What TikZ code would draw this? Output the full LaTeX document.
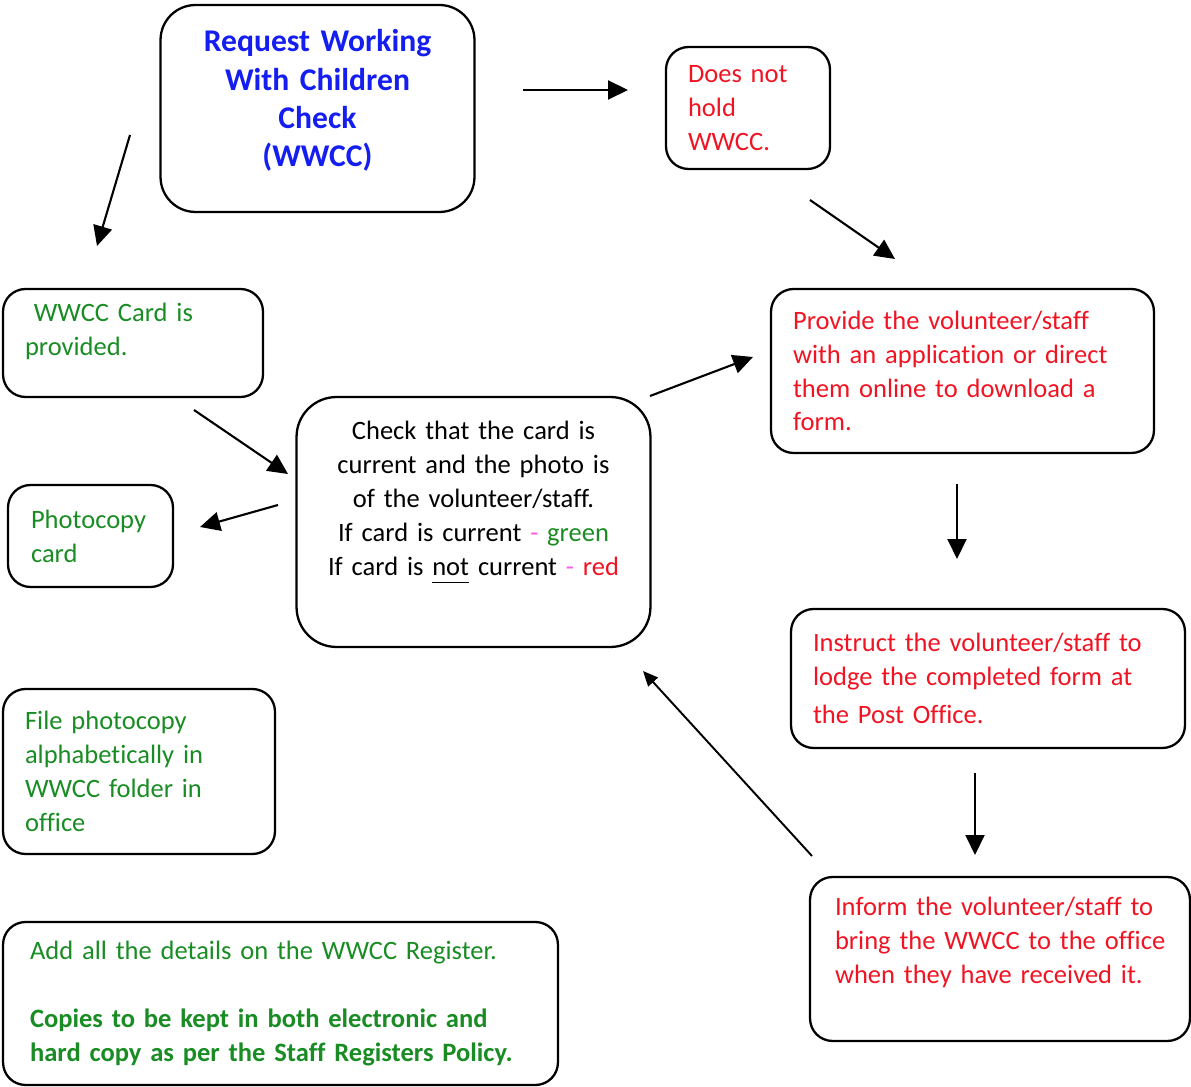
\documentclass[tikz,border=0pt]{standalone}
\usepackage{fontspec}
\setmainfont{Carlito}[Ligatures=NoCommon]
\usepackage{xcolor}
\usetikzlibrary{arrows.meta}

\definecolor{wgreen}{RGB}{25,140,35}
\definecolor{wred}{RGB}{240,20,35}
\definecolor{wblue}{RGB}{20,30,240}
\definecolor{wpink}{RGB}{250,90,230}

\newcommand{\lowul}[1]{\underline{#1\vphantom{gp}}}

\tikzset{
  box/.style={draw, rounded corners=0.45cm, line width=1.3pt, inner xsep=0.44cm, inner ysep=0pt,
    align=left, font=\fontsize{15.1}{19.3}\selectfont,
    execute at begin node={\hyphenpenalty=10000\exhyphenpenalty=10000}},
  flow/.style={line width=1.2pt, -{Triangle[length=0.4cm,width=0.38cm]}},
  thinflow/.style={line width=1.1pt, -{Triangle[length=0.3cm,width=0.26cm]}}
}

\begin{document}
\begin{tikzpicture}[x=0.02cm,y=-0.02cm]
       \useasboundingbox (0,0) rectangle (1191,1087);

       \node[box, rounded corners=0.7cm, align=center, minimum width=6.22cm, minimum height=4.14cm, text width=5.4cm,
             text=wblue, font=\fontsize{18}{21.8}\selectfont\bfseries] (req) at (317.5,108.5)
             {Request Working\\With Children\\Check\\(WWCC)\\[-10pt]\mbox{}};
       \node[box, minimum width=3.28cm, minimum height=2.44cm, text width=2.4cm, text=wred] (nohold) at (748,108)
             {Does not\\hold\\WWCC.};
       \node[box, minimum width=5.2cm, minimum height=2.16cm, text width=4.32cm, text=wgreen] (card) at (133,343)
             {~WWCC Card is\\provided.\\[-4pt]\mbox{}};
       \node[box, rounded corners=0.8cm, align=center, minimum width=7.02cm, minimum height=5cm, text width=6.2cm] (check) at (473.5,522)
             {Check that the card is\\current and the photo is\\of the volunteer/staff.\\
              If card is current {\color{wpink}-} {\color{wgreen}green}\\
              If card is \lowul{not} current {\color{wpink}-} {\color{wred}red}\\[8pt]\mbox{}};
       \node[box, minimum width=7.66cm, minimum height=3.28cm, text width=6.78cm, text=wred] (provide) at (962.5,371)
             {Provide the volunteer/staff\\with an application or direct\\them online to download a\\form.};
       \node[box, minimum width=3.3cm, minimum height=2.04cm, text width=2.38cm, text=wgreen] (photo) at (90.5,536)
             {Photocopy\\card};
       \node[box, minimum width=7.88cm, minimum height=2.78cm, text width=7cm, text=wred] (instruct) at (988,678.5)
             {Instruct the volunteer/staff to\\lodge the completed form at\\[2pt]the Post Office.};
       \node[box, minimum width=5.44cm, minimum height=3.3cm, text width=4.56cm, text=wgreen] (filebox) at (139,771.5)
             {File photocopy\\alphabetically in\\WWCC folder in\\office};
       \node[box, minimum width=7.6cm, minimum height=3.28cm, text width=6.6cm, inner xsep=0.5cm, text=wred] (inform) at (1000,959)
             {\mbox{Inform the volunteer/staff to}\\\mbox{bring the WWCC to the office}\\\mbox{when they have received it.}\\[2pt]\mbox{}};
       \node[box, minimum width=11.1cm, minimum height=3.26cm, text width=10.02cm, inner xsep=0.54cm, text=wgreen] (addbox) at (280.5,1003.5)
             {Add all the details on the WWCC Register.\\~\\
              \textbf{Copies to be kept in both electronic and}\\
              \textbf{hard copy as per the Staff Registers Policy.}};

       \coordinate (reqout) at (523,90);
       \coordinate (noholdin) at (628,90);
       \coordinate (reqdown) at (130,135);
       \coordinate (cardin) at (97,246);
       \coordinate (noholdout) at (810,200);
       \coordinate (providein) at (895,259);
       \coordinate (cardout) at (194,410);
       \coordinate (checkin) at (288,474);
       \coordinate (checkleft) at (278,505);
       \coordinate (photoin) at (200,527);
       \coordinate (checkout) at (650,396);
       \coordinate (provideleft) at (753,357);
       \coordinate (provideout) at (957,484);
       \coordinate (instructin) at (957,559);
       \coordinate (instructout) at (975,773);
       \coordinate (informin) at (975,855);
       \coordinate (informout) at (812,856);
       \coordinate (checkback) at (643,671);

       \draw [flow] (reqout) -- (noholdin);
       \draw [flow] (reqdown) -- (cardin);
       \draw [flow] (noholdout) -- (providein);
       \draw [flow] (cardout) -- (checkin);
       \draw [flow] (checkleft) -- (photoin);
       \draw [flow] (checkout) -- (provideleft);
       \draw [flow] (provideout) -- (instructin);
       \draw [flow] (instructout) -- (informin);
       \draw [thinflow] (informout) -- (checkback);
    \end{tikzpicture}
\end{document}
